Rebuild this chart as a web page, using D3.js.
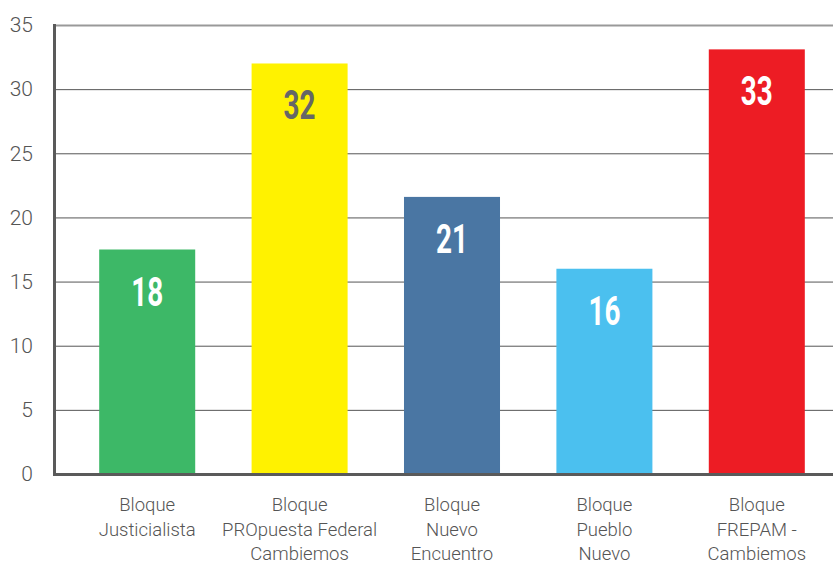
<!DOCTYPE html>
<html>
<head>
<meta charset="utf-8">
<script src="https://cdn.jsdelivr.net/npm/d3@7"></script>
<style>
  body { margin: 0; background: #fff; }
  svg { display: block; }
</style>
</head>
<body>
<svg width="833" height="566"></svg>
<script>
// data
var categories = ["Bloque Justicialista", "Bloque PROpuesta Federal Cambiemos", "Bloque Nuevo Encuentro", "Bloque Pueblo Nuevo", "Bloque FREPAM - Cambiemos"];
var labelLines = [["Bloque", "Justicialista"], ["Bloque", "PROpuesta Federal", "Cambiemos"], ["Bloque", "Nuevo", "Encuentro"], ["Bloque", "Pueblo", "Nuevo"], ["Bloque", "FREPAM -", "Cambiemos"]];
var values = [17.5, 32, 21.6, 16, 33.1];
var valueLabels = ["18", "32", "21", "16", "33"];
var colors = ["#3db867", "#fff200", "#4a76a3", "#4bc0ef", "#ed1c24"];
var labelColors = ["#fff", "#666", "#fff", "#fff", "#fff"];
var yTicks = [0, 5, 10, 15, 20, 25, 30, 35];

var svg = d3.select("svg");

var x = d3.scaleBand()
    .domain(categories)
    .range([71, 833])
    .paddingInner(0.37)
    .paddingOuter(0.185);

var y = d3.scaleLinear()
    .domain([0, 35])
    .range([474, 25]);

// gridlines
svg.append("g")
    .selectAll("line")
    .data(yTicks.filter(function(d) { return d > 0; }))
    .enter().append("line")
    .attr("x1", 55)
    .attr("x2", 833)
    .attr("y1", function(d) { return y(d) + 0.5; })
    .attr("y2", function(d) { return y(d) + 0.5; })
    .attr("stroke", function(d) { return d === 35 ? "#999" : "#555"; })
    .attr("stroke-width", function(d) { return d === 35 ? 2 : 1; });

// y tick labels
svg.append("g")
    .selectAll("text")
    .data(yTicks)
    .enter().append("text")
    .attr("x", 33)
    .attr("y", function(d) { return y(d); })
    .attr("dy", "0.35em")
    .attr("text-anchor", "end")
    .attr("font-family", "Roboto, sans-serif")
    .attr("font-weight", 300)
    .attr("font-size", 21)
    .attr("fill", "#555")
    .text(function(d) { return d; });

// bars
svg.append("g")
    .selectAll("rect")
    .data(values)
    .enter().append("rect")
    .attr("x", function(d, i) { return x(categories[i]); })
    .attr("y", function(d) { return y(d); })
    .attr("width", x.bandwidth())
    .attr("height", function(d) { return y(0) - y(d); })
    .attr("fill", function(d, i) { return colors[i]; });

// value labels (condensed look via horizontal squeeze)
svg.append("g")
    .selectAll("text")
    .data(values)
    .enter().append("text")
    .attr("transform", function(d, i) {
        return "translate(" + (x(categories[i]) + x.bandwidth() / 2) + "," + (y(d) + 56) + ") scale(0.68,1)";
    })
    .attr("text-anchor", "middle")
    .attr("font-family", "Roboto, sans-serif")
    .attr("font-weight", "bold")
    .attr("font-size", 41)
    .attr("fill", function(d, i) { return labelColors[i]; })
    .text(function(d, i) { return valueLabels[i]; });

// axes lines
svg.append("line")
    .attr("x1", 54.5).attr("x2", 54.5)
    .attr("y1", 24).attr("y2", 476)
    .attr("stroke", "#5a5a5a")
    .attr("stroke-width", 3);

svg.append("line")
    .attr("x1", 53).attr("x2", 833)
    .attr("y1", 474.5).attr("y2", 474.5)
    .attr("stroke", "#5a5a5a")
    .attr("stroke-width", 3);

// category labels
var cat = svg.append("g")
    .selectAll("text")
    .data(categories)
    .enter().append("text")
    .attr("x", function(d) { return x(d) + x.bandwidth() / 2; })
    .attr("y", 511)
    .attr("text-anchor", "middle")
    .attr("font-family", "Roboto, sans-serif")
    .attr("font-weight", 300)
    .attr("font-size", 18.5)
    .attr("fill", "#555");

cat.selectAll("tspan")
    .data(function(d, i) { return labelLines[i]; })
    .enter().append("tspan")
    .attr("x", function() { return this.parentNode.getAttribute("x"); })
    .attr("dy", function(d, j) { return j === 0 ? 0 : 24.5; })
    .text(function(d) { return d; });
</script>
</body>
</html>
